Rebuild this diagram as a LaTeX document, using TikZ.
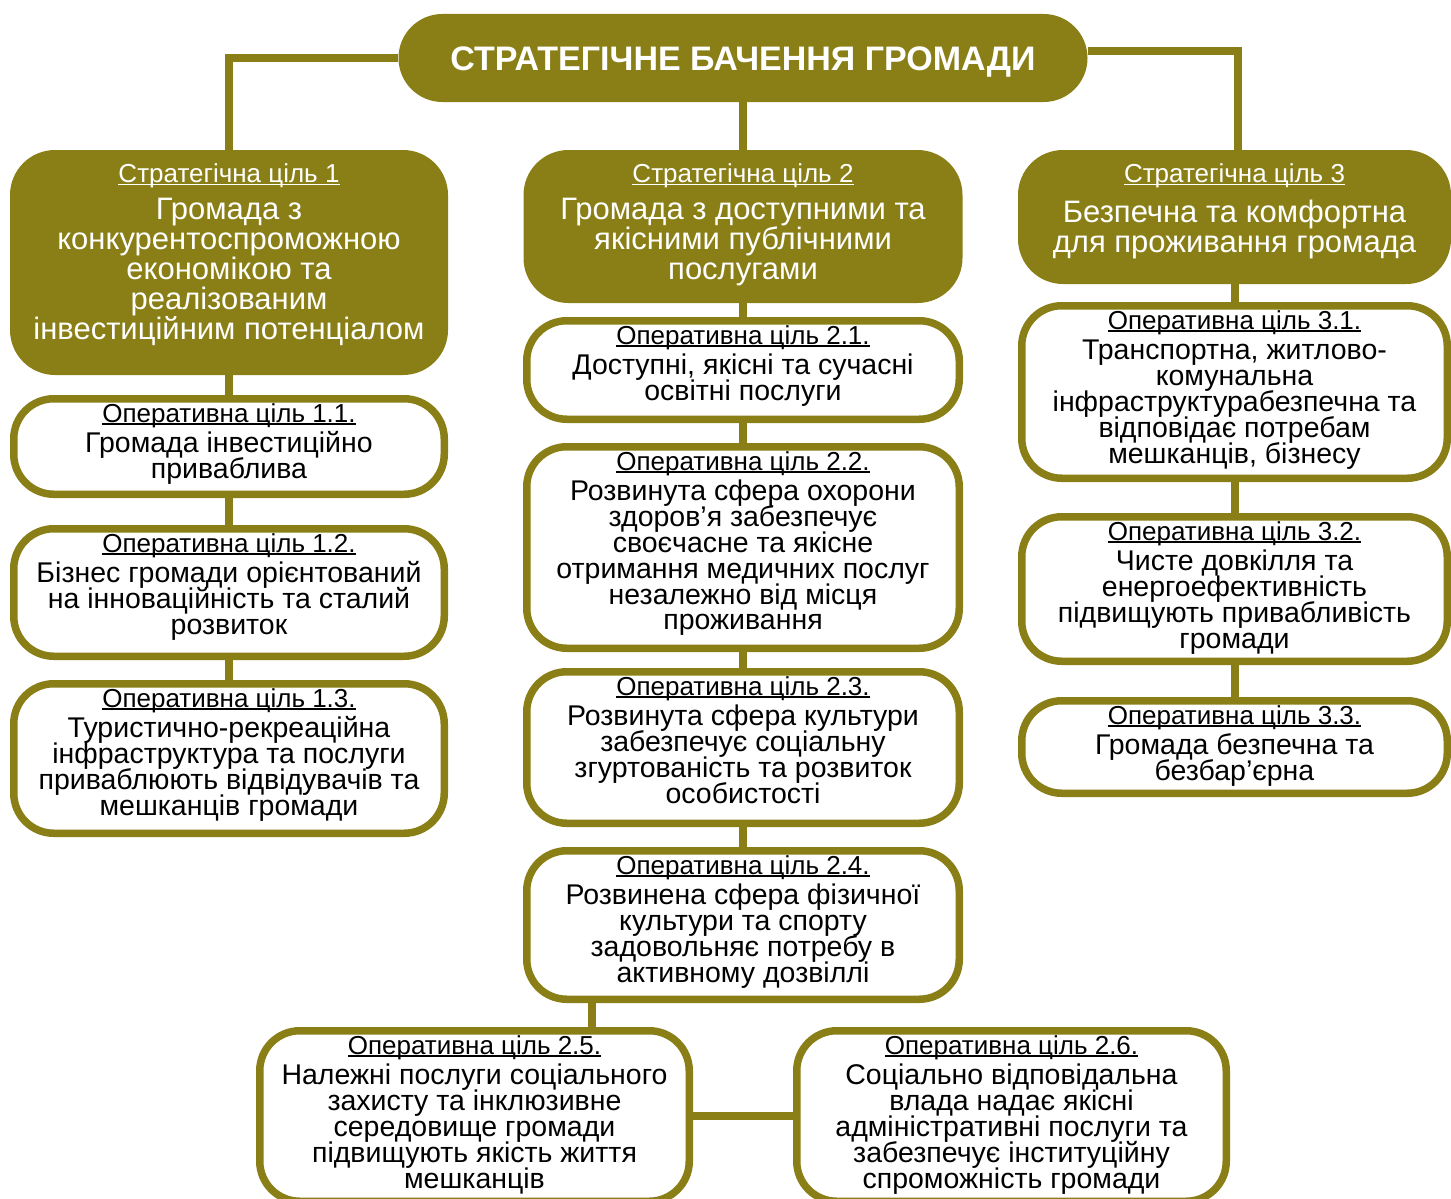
\documentclass[tikz,border=0pt]{standalone}
\usepackage{fontspec}
\setmainfont{Liberation Sans}
\usetikzlibrary{backgrounds}
\definecolor{olv}{RGB}{138,127,22}
\newcommand{\hdul}[1]{{\fontsize{26}{26}\selectfont\setbox0\hbox{#1}\rlap{\rule[-2.6pt]{\wd0}{1.6pt}}\box0}}
\begin{document}
\setlength{\lineskiplimit}{-100pt}
\begin{tikzpicture}[x=1pt,y=-1pt,
  conn/.style={draw=olv, line width=8pt},
  stratbox/.style={fill=olv, draw=none, rounded corners=45pt, inner sep=0pt},
  opbox/.style={fill=white, draw=olv, line width=7.5pt, rounded corners=40pt, inner sep=0pt},
  strattext/.style={text=white, align=center, inner sep=0pt, anchor=north, font=\fontsize{31}{30}\selectfont},
  optext/.style={align=center, inner sep=0pt, anchor=north, font=\fontsize{28.5}{25.8}\selectfont},
]
\useasboundingbox (0,0) rectangle (1451,1199);

% top
\node[stratbox, rounded corners=43.9pt, minimum width=689pt, minimum height=88pt, text=white,
      font=\fontsize{34}{34}\selectfont\bfseries, text height=24.5pt, text depth=0pt]
      (top) at (743,58) {СТРАТЕГІЧНЕ БАЧЕННЯ ГРОМАДИ};

% strategic goals
\node[stratbox, minimum width=438pt, minimum height=225pt] (s1) at (229,262.5) {};
\node[stratbox, minimum width=439pt, minimum height=153pt] (s2) at (743,226.5) {};
\node[stratbox, minimum width=433pt, minimum height=134pt] (s3) at (1234.5,217) {};

\node[strattext] (s1t) at ([yshift=-14pt]s1.north)
  {\hdul{Стратегічна ціль 1}\\[7pt]
   Громада з\\ конкурентоспроможною\\ економікою та\\ реалізованим\\ інвестиційним потенціалом};
\node[strattext] (s2t) at ([yshift=-14pt]s2.north)
  {\hdul{Стратегічна ціль 2}\\[7pt]
   Громада з доступними та\\ якісними публічними\\ послугами};
\node[strattext] (s3t) at ([yshift=-14pt]s3.north)
  {\hdul{Стратегічна ціль 3}\\[10pt]
   Безпечна та комфортна\\ для проживання громада};

% operational goals, column 1
\node[opbox, minimum width=430.5pt, minimum height=95.5pt]  (o11) at (229,446.5) {};
\node[opbox, minimum width=430.5pt, minimum height=127.5pt] (o12) at (229,592.5) {};
\node[opbox, minimum width=430.5pt, minimum height=149.5pt] (o13) at (229,758.5) {};
% column 2
\node[opbox, minimum width=432.5pt, minimum height=98.5pt]  (o21) at (743,370) {};
\node[opbox, minimum width=432.5pt, minimum height=201.5pt] (o22) at (743,547.5) {};
\node[opbox, minimum width=432.5pt, minimum height=151.5pt] (o23) at (743,747.5) {};
\node[opbox, minimum width=432.5pt, minimum height=148.5pt] (o24) at (743,925) {};
\node[opbox, minimum width=429.5pt, minimum height=170.5pt] (o25) at (474.5,1116) {};
\node[opbox, minimum width=429.5pt, minimum height=170.5pt] (o26) at (1011.5,1116) {};
% column 3
\node[opbox, minimum width=425.5pt, minimum height=172.5pt] (o31) at (1234.5,392) {};
\node[opbox, minimum width=425.5pt, minimum height=144.5pt] (o32) at (1234.5,589) {};
\node[opbox, minimum width=425.5pt, minimum height=92.5pt]  (o33) at (1234.5,747) {};

\node[optext] (o11t) at ([yshift=-8pt]o11.north)
  {\hdul{Оперативна ціль 1.1.}\\[5pt] Громада інвестиційно\\ приваблива};
\node[optext] (o12t) at ([yshift=-8pt]o12.north)
  {\hdul{Оперативна ціль 1.2.}\\[5pt] Бізнес громади орієнтований\\ на інноваційність та сталий\\ розвиток};
\node[optext] (o13t) at ([yshift=-8pt]o13.north)
  {\hdul{Оперативна ціль 1.3.}\\[5pt] Туристично-рекреаційна\\ інфраструктура та послуги\\ приваблюють відвідувачів та\\ мешканців громади};

\node[optext] (o21t) at ([yshift=-8pt]o21.north)
  {\hdul{Оперативна ціль 2.1.}\\[5pt] Доступні, якісні та сучасні\\ освітні послуги};
\node[optext] (o22t) at ([yshift=-8pt]o22.north)
  {\hdul{Оперативна ціль 2.2.}\\[5pt] Розвинута сфера охорони\\ здоров’я забезпечує\\ своєчасне та якісне\\ отримання медичних послуг\\ незалежно від місця\\ проживання};
\node[optext] (o23t) at ([yshift=-8pt]o23.north)
  {\hdul{Оперативна ціль 2.3.}\\[5pt] Розвинута сфера культури\\ забезпечує соціальну\\ згуртованість та розвиток\\ особистості};
\node[optext] (o24t) at ([yshift=-8pt]o24.north)
  {\hdul{Оперативна ціль 2.4.}\\[5pt] Розвинена сфера фізичної\\ культури та спорту\\ задовольняє потребу в\\ активному дозвіллі};
\node[optext] (o25t) at ([yshift=-8pt]o25.north)
  {\hdul{Оперативна ціль 2.5.}\\[5pt] Належні послуги соціального\\ захисту та інклюзивне\\ середовище громади\\ підвищують якість життя\\ мешканців};
\node[optext] (o26t) at ([yshift=-8pt]o26.north)
  {\hdul{Оперативна ціль 2.6.}\\[5pt] Соціально відповідальна\\ влада надає якісні\\ адміністративні послуги та\\ забезпечує інституційну\\ спроможність громади};

\node[optext] (o31t) at ([yshift=-8pt]o31.north)
  {\hdul{Оперативна ціль 3.1.}\\[5pt] Транспортна, житлово-\\ комунальна\\ інфраструктурабезпечна та\\ відповідає потребам\\ мешканців, бізнесу};
\node[optext] (o32t) at ([yshift=-8pt]o32.north)
  {\hdul{Оперативна ціль 3.2.}\\[5pt] Чисте довкілля та\\ енергоефективність\\ підвищують привабливість\\ громади};
\node[optext] (o33t) at ([yshift=-8pt]o33.north)
  {\hdul{Оперативна ціль 3.3.}\\[5pt] Громада безпечна та\\ безбар’єрна};

\coordinate (j25) at (592,1010);

\begin{pgfonlayer}{background}
  \draw[conn] (top.west) -| (s1.north);
  \draw[conn] ([yshift=7pt]top.east) -| ([xshift=3.5pt]s3.north);
  \draw[conn] (top.south) -- (s2.north);
  \foreach \a/\b in {s1/o11,o11/o12,o12/o13,s2/o21,o21/o22,o22/o23,o23/o24,s3/o31,o31/o32,o32/o33}
    \draw[conn] (\a.south) -- (\b.north);
  \draw[conn] (o24.south -| j25) -- (o25.north -| j25);
  \draw[conn] (o25.east) -- (o26.west);
\end{pgfonlayer}
\end{tikzpicture}
\end{document}
